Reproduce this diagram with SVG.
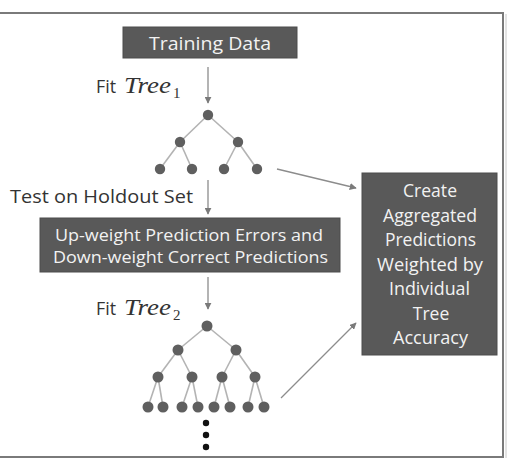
<svg xmlns="http://www.w3.org/2000/svg" width="510" height="462" viewBox="0 0 510 462">
<defs>
<style>
.box{fill:#595959;stroke:#4d4d4d;stroke-width:1}
.bt{font-family:"Open Sans","Liberation Sans",sans-serif;fill:#f2f2f2;text-anchor:middle}
.lbl{font-family:"Open Sans","Liberation Sans",sans-serif;fill:#333333}
.math{font-family:"Liberation Serif","DejaVu Serif",serif;font-style:italic;fill:#333333}
.sub{font-family:"Liberation Serif","DejaVu Serif",serif;font-style:normal;fill:#333333}
.edge{stroke:#b3b3b3;stroke-width:1.6;fill:none}
.nd{fill:#5f5f5f}
.dot{fill:#111111}
.arr{stroke:#8c8c8c;stroke-width:1.3;fill:none;marker-end:url(#ah)}
</style>
<marker id="ah" viewBox="0 0 10 10" refX="9" refY="5" markerWidth="7" markerHeight="7" markerUnits="userSpaceOnUse" orient="auto">
<path d="M0,0 L10,5 L0,10 z" fill="#7a7a7a"/>
</marker>
</defs>
<rect x="0" y="0" width="510" height="462" fill="#ffffff"/>
<path d="M0,13 H503 V457 H0" fill="none" stroke="#7a7a7a" stroke-width="2"/>
<path d="M506,14 V458" fill="none" stroke="#c8c8c8" stroke-width="1"/>

<g id="connectors">
<line class="arr" x1="208" y1="67" x2="208" y2="103"/>
<line class="arr" x1="208" y1="180" x2="208" y2="214"/>
<line class="arr" x1="208" y1="277" x2="208" y2="309"/>
<line class="arr" x1="277" y1="169" x2="356" y2="188"/>
<line class="arr" x1="281" y1="398" x2="356" y2="323"/>
</g>

<g id="training-data">
<rect class="box" x="123" y="27" width="174" height="31"/>
<text class="bt" x="210" y="50" font-size="17.5" textLength="122" lengthAdjust="spacingAndGlyphs">Training Data</text>
</g>

<g id="fit-tree1">
<text class="lbl" x="96" y="93" font-size="17.5" textLength="20" lengthAdjust="spacingAndGlyphs">Fit</text>
<text class="math" x="124" y="93" font-size="24" textLength="47" lengthAdjust="spacingAndGlyphs">Tree</text>
<text class="sub" x="173" y="98" font-size="15">1</text>
</g>

<g id="tree1">
<line class="edge" x1="208" y1="115" x2="180" y2="142"/>
<line class="edge" x1="208" y1="115" x2="238" y2="142"/>
<line class="edge" x1="180" y1="142" x2="160" y2="169"/>
<line class="edge" x1="180" y1="142" x2="192" y2="169"/>
<line class="edge" x1="238" y1="142" x2="224" y2="169"/>
<line class="edge" x1="238" y1="142" x2="257" y2="169"/>
<circle class="nd" cx="208" cy="115" r="5.2"/>
<circle class="nd" cx="180" cy="142" r="5.2"/>
<circle class="nd" cx="238" cy="142" r="5.2"/>
<circle class="nd" cx="160" cy="169" r="5.2"/>
<circle class="nd" cx="192" cy="169" r="5.2"/>
<circle class="nd" cx="224" cy="169" r="5.2"/>
<circle class="nd" cx="257" cy="169" r="5.2"/>
</g>

<g id="test-holdout">
<text class="lbl" x="10" y="203" font-size="17.5" textLength="183" lengthAdjust="spacingAndGlyphs">Test on Holdout Set</text>
</g>

<g id="reweight">
<rect class="box" x="40" y="218" width="300" height="54"/>
<text class="bt" x="189" y="241" font-size="16" textLength="268" lengthAdjust="spacingAndGlyphs">Up-weight Prediction Errors and</text>
<text class="bt" x="190.5" y="263" font-size="16" textLength="275" lengthAdjust="spacingAndGlyphs">Down-weight Correct Predictions</text>
</g>

<g id="fit-tree2">
<text class="lbl" x="96" y="315" font-size="17.5" textLength="20" lengthAdjust="spacingAndGlyphs">Fit</text>
<text class="math" x="124" y="315" font-size="24" textLength="47" lengthAdjust="spacingAndGlyphs">Tree</text>
<text class="sub" x="173" y="320" font-size="15">2</text>
</g>

<g id="tree2">
<line class="edge" x1="207" y1="326" x2="178" y2="350"/>
<line class="edge" x1="207" y1="326" x2="236" y2="350"/>
<line class="edge" x1="178" y1="350" x2="158" y2="377"/>
<line class="edge" x1="178" y1="350" x2="192" y2="377"/>
<line class="edge" x1="236" y1="350" x2="222" y2="377"/>
<line class="edge" x1="236" y1="350" x2="255" y2="377"/>
<line class="edge" x1="158" y1="377" x2="148" y2="407"/>
<line class="edge" x1="158" y1="377" x2="163" y2="407"/>
<line class="edge" x1="192" y1="377" x2="182" y2="407"/>
<line class="edge" x1="192" y1="377" x2="198" y2="407"/>
<line class="edge" x1="222" y1="377" x2="214" y2="407"/>
<line class="edge" x1="222" y1="377" x2="230" y2="407"/>
<line class="edge" x1="255" y1="377" x2="248" y2="407"/>
<line class="edge" x1="255" y1="377" x2="264" y2="407"/>
<circle class="nd" cx="207" cy="326" r="5.5"/>
<circle class="nd" cx="178" cy="350" r="5.5"/>
<circle class="nd" cx="236" cy="350" r="5.5"/>
<circle class="nd" cx="158" cy="377" r="5.5"/>
<circle class="nd" cx="192" cy="377" r="5.5"/>
<circle class="nd" cx="222" cy="377" r="5.5"/>
<circle class="nd" cx="255" cy="377" r="5.5"/>
<circle class="nd" cx="148" cy="407" r="5.5"/>
<circle class="nd" cx="163" cy="407" r="5.5"/>
<circle class="nd" cx="182" cy="407" r="5.5"/>
<circle class="nd" cx="198" cy="407" r="5.5"/>
<circle class="nd" cx="214" cy="407" r="5.5"/>
<circle class="nd" cx="230" cy="407" r="5.5"/>
<circle class="nd" cx="248" cy="407" r="5.5"/>
<circle class="nd" cx="264" cy="407" r="5.5"/>
<circle class="dot" cx="206" cy="423" r="3.2"/>
<circle class="dot" cx="206" cy="435" r="3.2"/>
<circle class="dot" cx="206" cy="447" r="3.2"/>
</g>

<g id="aggregate">
<rect class="box" x="362" y="173" width="135" height="182"/>
<text class="bt" x="430" y="197" font-size="17.5" textLength="54" lengthAdjust="spacingAndGlyphs">Create</text>
<text class="bt" x="430" y="221.5" font-size="17.5" textLength="94" lengthAdjust="spacingAndGlyphs">Aggregated</text>
<text class="bt" x="430.5" y="246" font-size="17.5" textLength="91" lengthAdjust="spacingAndGlyphs">Predictions</text>
<text class="bt" x="430" y="270.5" font-size="17.5" textLength="106" lengthAdjust="spacingAndGlyphs">Weighted by</text>
<text class="bt" x="429.5" y="295" font-size="17.5" textLength="81" lengthAdjust="spacingAndGlyphs">Individual</text>
<text class="bt" x="431" y="319.5" font-size="17.5">Tree</text>
<text class="bt" x="430.5" y="344" font-size="17.5" textLength="75" lengthAdjust="spacingAndGlyphs">Accuracy</text>
</g>
</svg>
